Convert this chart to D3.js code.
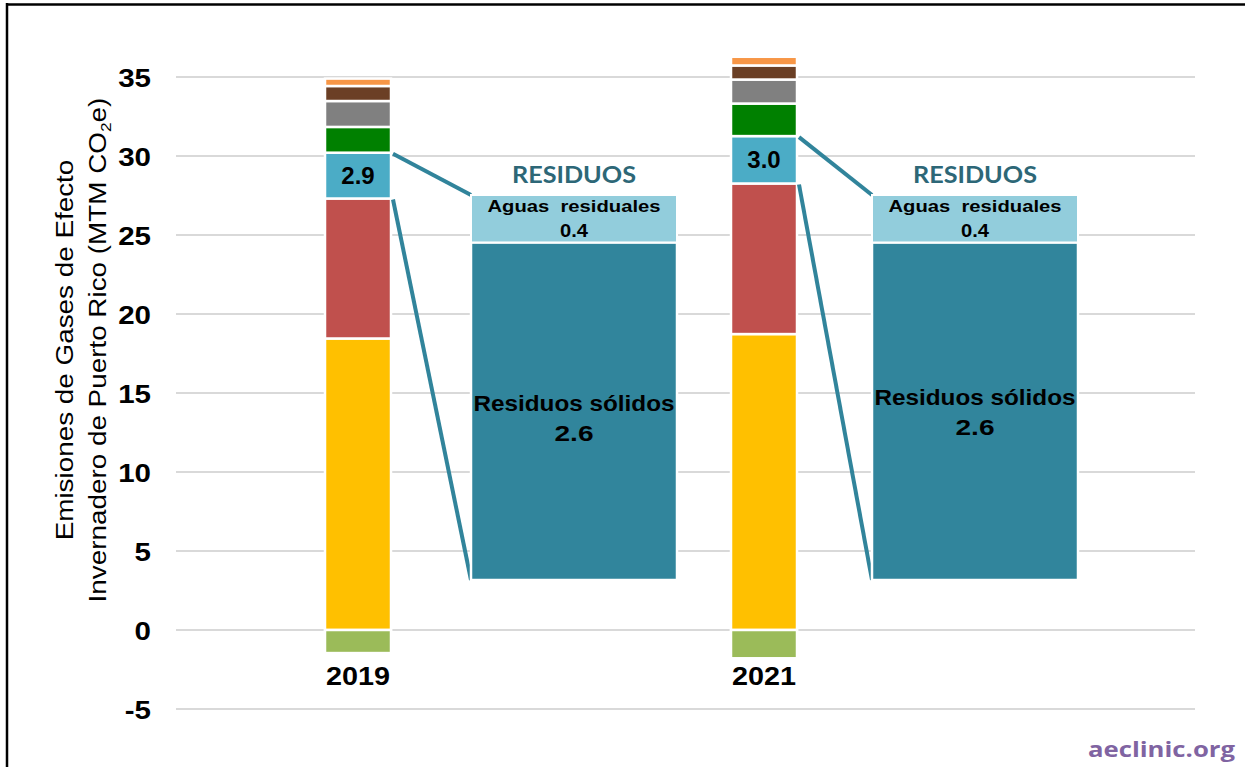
<!DOCTYPE html>
<html><head><meta charset="utf-8">
<script src="https://cdn.jsdelivr.net/npm/d3@7"></script>
<style>body{margin:0;background:#fff}svg{display:block}</style>
</head><body>
<script>
// ---- data ----
const years = ["2019", "2021"];
const negValues = [-1.46, -1.79];                 // light green (below zero)
const energia = [18.45, 18.73];                   // yellow
const procesos = [8.86, 9.53];                    // red
const residuos = [2.9, 3.0];                      // blue (labelled)
const agric = [1.63, 2.06];                       // green
const otro1 = [1.64, 1.52];                       // grey
const otro2 = [0.95, 0.89];                       // brown
const otro3 = [0.47, 0.55];                       // orange
const aguas = [0.36, 0.37];
const solidos = [2.56, 2.63];
const breakoutTitle = "RESIDUOS";
const yTicks = [-5, 0, 5, 10, 15, 20, 25, 30, 35];

const posSeries = [
  {vals: energia, color: "#FFC000"},
  {vals: procesos, color: "#C0504D"},
  {vals: residuos, color: "#4BACC6", label: true},
  {vals: agric, color: "#008000"},
  {vals: otro1, color: "#808080"},
  {vals: otro2, color: "#6B3F25"},
  {vals: otro3, color: "#F79646"}
];

const W = 1245, H = 767;
const FF = "Liberation Sans, Arial, sans-serif";
const svg = d3.select("body").append("svg").attr("width", W).attr("height", H);

function fit(sel, w) {
  sel.attr("textLength", w).attr("lengthAdjust", "spacingAndGlyphs");
  return sel;
}

// border (top & left visible)
svg.append("line").attr("x1", 6).attr("x2", W).attr("y1", 4.5).attr("y2", 4.5).attr("stroke", "#000").attr("stroke-width", 2.5);
svg.append("line").attr("x1", 7).attr("x2", 7).attr("y1", 3).attr("y2", H).attr("stroke", "#000").attr("stroke-width", 2.5);

const y = d3.scaleLinear().domain([-5, 35]).range([709, 77]);
const barX = d3.scaleOrdinal().domain(years).range([325, 731]);
const barW = 66;

// gridlines
svg.append("g").selectAll("line").data(yTicks).join("line")
  .attr("x1", 176).attr("x2", 1195)
  .attr("y1", d => y(d)).attr("y2", d => y(d))
  .attr("stroke", "#D9D9D9").attr("stroke-width", 2);

// y axis labels
const yAxis = d3.axisLeft(y).tickValues(yTicks).tickSize(0).tickPadding(0).tickFormat(d => String(d));
const ga = svg.append("g").attr("transform", "translate(151,0)").call(yAxis);
ga.select(".domain").remove();
ga.selectAll("text").attr("font-family", FF).attr("font-weight", "bold")
  .attr("font-size", 25).attr("fill", "#000").attr("dy", "0.36em")
  .attr("transform", "scale(1.18,1)");

// axis title
const title = svg.append("text")
  .attr("text-anchor", "middle").attr("font-family", FF)
  .attr("font-size", 24).attr("fill", "#000");
title.append("tspan").attr("x", 0).attr("y", 73).text("Emisiones de Gases de Efecto");
const t2 = title.append("tspan").attr("x", 0).attr("y", 106);
t2.append("tspan").text("Invernadero de Puerto Rico (MTM CO");
t2.append("tspan").attr("font-size", 15).attr("dy", 5).text("2");
t2.append("tspan").attr("dy", -5).text("e)");
const tw = title.node().getBBox().width;
title.attr("transform", `translate(0,350) rotate(-90) scale(${505 / tw},1)`);

// stacked bars
years.forEach((yr, i) => {
  let base = 0;
  const g = svg.append("g");
  posSeries.forEach(s => {
    const v = s.vals[i];
    const y0 = y(base), y1 = y(base + v);
    g.append("rect").attr("x", barX(yr)).attr("width", barW)
      .attr("y", y1).attr("height", y0 - y1)
      .attr("fill", s.color).attr("stroke", "#fff").attr("stroke-width", 2.5);
    if (s.label) {
      g.append("text").attr("x", barX(yr) + barW / 2).attr("y", (y0 + y1) / 2)
        .attr("dy", "0.36em").attr("text-anchor", "middle")
        .attr("font-family", FF).attr("font-weight", "bold")
        .attr("font-size", 24).attr("fill", "#000").text(d3.format(".1f")(v));
    }
    base += v;
  });
  // negative
  g.append("rect").attr("x", barX(yr)).attr("width", barW)
    .attr("y", y(0)).attr("height", y(negValues[i]) - y(0))
    .attr("fill", "#9BBB59").attr("stroke", "#fff").attr("stroke-width", 2.5);
  // year label
  fit(svg.append("text").attr("x", barX(yr) + barW / 2).attr("y", 685).attr("text-anchor", "middle")
    .attr("font-family", FF).attr("font-weight", "bold")
    .attr("font-size", 26).attr("fill", "#000").text(yr), 64);
});

// breakout boxes
const boxX = d3.scaleOrdinal().domain(years).range([471, 872]);
const boxW = 206;
const labelShift = [0, -6];
years.forEach((yr, i) => {
  const total = aguas[i] + solidos[i];
  const by = d3.scaleLinear().domain([0, total]).range([580, 195]);
  const bx = boxX(yr);
  const g = svg.append("g");
  // connectors
  const bTop = y(energia[i] + procesos[i] + residuos[i]);
  const bBot = y(energia[i] + procesos[i]);
  g.append("line").attr("x1", barX(yr) + barW + 2).attr("y1", bTop + 1).attr("x2", bx).attr("y2", by(total))
    .attr("stroke", "#31849B").attr("stroke-width", 4);
  g.append("line").attr("x1", barX(yr) + barW + 2).attr("y1", bBot + 1).attr("x2", bx).attr("y2", by(0))
    .attr("stroke", "#31849B").attr("stroke-width", 4);
  // solidos
  g.append("rect").attr("x", bx).attr("width", boxW).attr("y", by(solidos[i])).attr("height", by(0) - by(solidos[i]))
    .attr("fill", "#31859C").attr("stroke", "#fff").attr("stroke-width", 2.5);
  // aguas
  g.append("rect").attr("x", bx).attr("width", boxW).attr("y", by(total)).attr("height", by(solidos[i]) - by(total))
    .attr("fill", "#92CDDC").attr("stroke", "#fff").attr("stroke-width", 2);
  const cx = bx + boxW / 2;
  fit(g.append("text").attr("x", cx).attr("y", 212).attr("text-anchor", "middle").attr("font-family", FF)
    .attr("font-weight", "bold").attr("font-size", 17).attr("fill", "#000").attr("xml:space", "preserve").text("Aguas  residuales"), 173);
  fit(g.append("text").attr("x", cx).attr("y", 237).attr("text-anchor", "middle").attr("font-family", FF)
    .attr("font-weight", "bold").attr("font-size", 18.5).attr("fill", "#000").text(d3.format(".1f")(aguas[i])), 28);
  fit(g.append("text").attr("x", cx).attr("y", 411 + labelShift[i]).attr("text-anchor", "middle").attr("font-family", FF)
    .attr("font-weight", "bold").attr("font-size", 22).attr("fill", "#000").text("Residuos sólidos"), 201);
  fit(g.append("text").attr("x", cx).attr("y", 441 + labelShift[i]).attr("text-anchor", "middle").attr("font-family", FF)
    .attr("font-weight", "bold").attr("font-size", 22).attr("fill", "#000").text(d3.format(".1f")(solidos[i])), 39);
  fit(g.append("text").attr("x", cx).attr("y", 183).attr("text-anchor", "middle").attr("font-family", "Lato, Open Sans, sans-serif")
    .attr("font-weight", "bold").attr("font-size", 23.5).attr("fill", "#2D6777").text(breakoutTitle), 124);
});

// watermark
fit(svg.append("text").attr("x", 1235).attr("y", 757).attr("text-anchor", "end")
  .attr("font-family", "Open Sans, sans-serif").attr("font-weight", "bold").attr("font-size", 21)
  .attr("fill", "#8064A2").text("aeclinic.org"), 147);
</script>
</body></html>
